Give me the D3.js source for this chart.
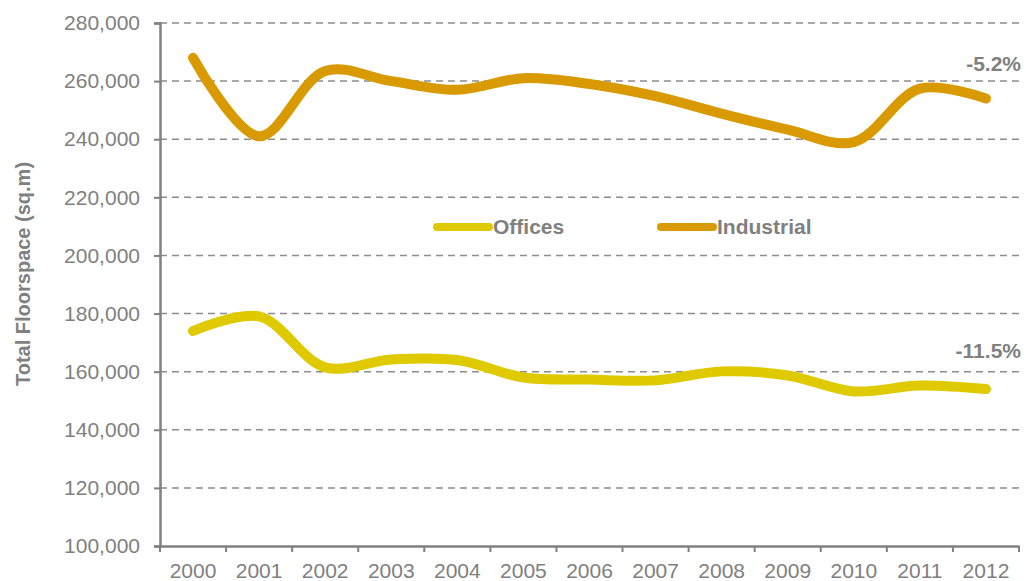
<!DOCTYPE html>
<html>
<head>
<meta charset="utf-8">
<script src="https://cdn.jsdelivr.net/npm/d3@7"></script>
<style>
  body { margin: 0; background: #fff; }
  svg { display: block; font-family: "Liberation Sans", Arial, sans-serif; }
</style>
</head>
<body>
<svg></svg>
<script>
const years = ["2000", "2001", "2002", "2003", "2004", "2005", "2006", "2007", "2008", "2009", "2010", "2011", "2012"];
const offices = [174000, 179000, 161500, 164200, 164000, 158000, 157300, 157000, 160100, 158700, 153200, 155200, 154000];
const industrial = [268000, 241000, 263500, 260000, 257000, 261000, 259000, 254800, 248800, 243300, 239000, 257400, 254000];
const yTicks = [100000, 120000, 140000, 160000, 180000, 200000, 220000, 240000, 260000, 280000];
const seriesNames = ["Offices", "Industrial"];
const changeLabels = ["-11.5%", "-5.2%"];

const width = 1026;
const height = 581;
const svg = d3.select("svg")
    .attr("width", width)
    .attr("height", height);

const margin = { top: 23, right: 7, bottom: 35, left: 160 };
const chartWidth = width - margin.left - margin.right;
const chartHeight = height - margin.top - margin.bottom;
const grey = "#808080";

const colors = { Offices: "#dfca00", Industrial: "#d99a00" };

const chartGroup = svg.append("g")
    .attr("transform", `translate(${margin.left},${margin.top})`);

const x = d3.scaleBand()
    .domain(years)
    .range([0, chartWidth]);

const y = d3.scaleLinear()
    .domain([100000, 280000])
    .range([chartHeight, 0]);

// gridlines
chartGroup.append("g")
    .selectAll("line")
    .data(yTicks.slice(1))
    .join("line")
    .attr("x1", 0)
    .attr("x2", chartWidth)
    .attr("y1", d => y(d))
    .attr("y2", d => y(d))
    .attr("stroke", "#8c8c8c")
    .attr("stroke-width", 1.5)
    .attr("stroke-dasharray", "7,5");

// y axis
const yAxis = chartGroup.append("g")
    .call(d3.axisLeft(y).tickValues(yTicks).tickFormat(d3.format(",")).tickSize(6).tickPadding(14));
yAxis.selectAll("text").attr("fill", grey).style("font-size", "21px");

// x axis, ticks on band edges
const xAxis = chartGroup.append("g")
    .attr("transform", `translate(0,${chartHeight})`)
    .call(d3.axisBottom(x).tickSize(0).tickPadding(17));
xAxis.selectAll("text").attr("fill", grey).style("font-size", "21px");
xAxis.selectAll(".edge")
    .data(d3.range(years.length + 1))
    .join("line")
    .attr("class", "edge")
    .attr("x1", i => i * x.step())
    .attr("x2", i => i * x.step())
    .attr("y1", 0)
    .attr("y2", 6)
    .attr("stroke", grey)
    .attr("stroke-width", 2);

[yAxis, xAxis].forEach(a => {
    a.select(".domain").attr("stroke", grey).attr("stroke-width", 2.5);
    a.selectAll(".tick line").attr("stroke", grey).attr("stroke-width", 2);
});

// y axis title
svg.append("text")
    .attr("transform", `translate(30,274) rotate(-90)`)
    .attr("text-anchor", "middle")
    .attr("fill", grey)
    .style("font-size", "20px")
    .style("font-weight", "bold")
    .text("Total Floorspace (sq.m)");

const line = d3.line()
    .x((d, i) => x(years[i]) + x.bandwidth() / 2)
    .y(d => y(d))
    .curve(d3.curveCatmullRom.alpha(0.5));

const series = [offices, industrial];
series.forEach((values, k) => {
    chartGroup.append("path")
        .datum(values)
        .attr("d", line)
        .attr("fill", "none")
        .attr("stroke", colors[seriesNames[k]])
        .attr("stroke-width", 10)
        .attr("stroke-linecap", "round")
        .attr("stroke-linejoin", "round");

    chartGroup.append("text")
        .attr("x", chartWidth + 2)
        .attr("y", y(values[values.length - 1]) - (k === 0 ? 31 : 28))
        .attr("text-anchor", "end")
        .attr("fill", grey)
        .style("font-size", "21px")
        .style("font-weight", "bold")
        .text(changeLabels[k]);
});

// legend
const legend = svg.append("g").attr("transform", "translate(437,227)");
seriesNames.forEach((name, i) => {
    const g = legend.append("g").attr("transform", `translate(${i * 224},0)`);
    g.append("line")
        .attr("x1", 0)
        .attr("x2", 52)
        .attr("stroke", colors[name])
        .attr("stroke-width", 8)
        .attr("stroke-linecap", "round");
    g.append("text")
        .attr("x", 56)
        .attr("y", 7)
        .attr("fill", grey)
        .style("font-size", "21px")
        .style("font-weight", "bold")
        .text(name);
});
</script>
</body>
</html>
